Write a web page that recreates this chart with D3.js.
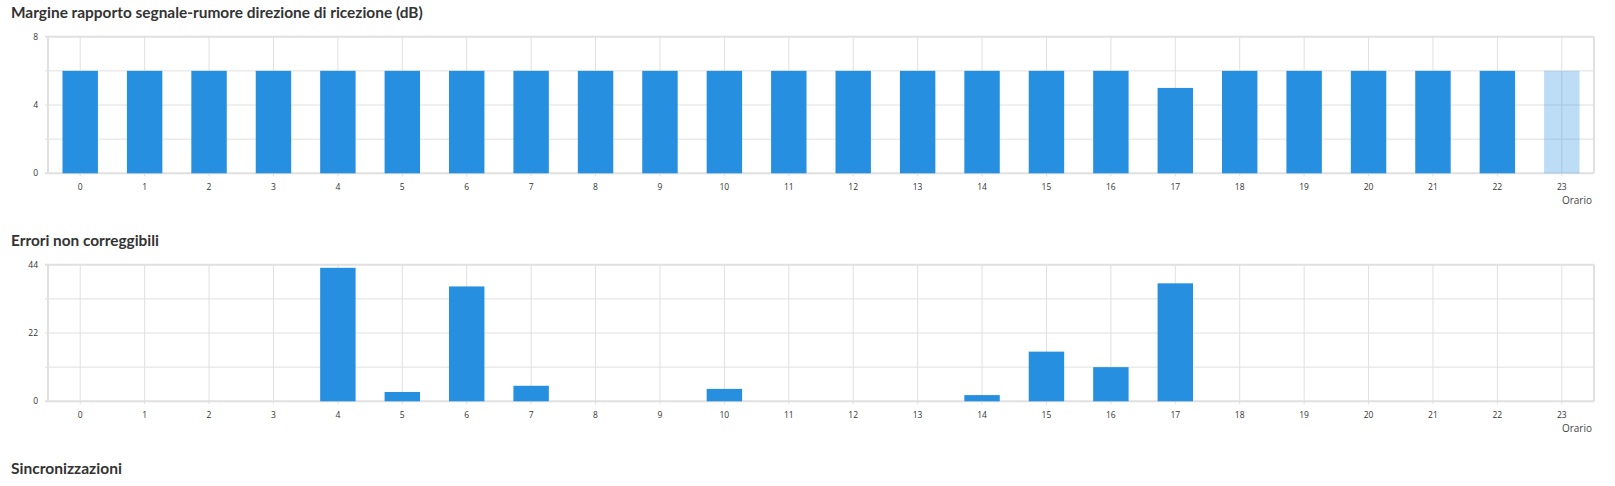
<!DOCTYPE html>
<html>
<head>
<meta charset="utf-8">
<script src="https://cdn.jsdelivr.net/npm/d3@7"></script>
<style>
  html, body { margin: 0; padding: 0; background: #fff; }
  svg { display: block; }
  text { font-family: "Open Sans", "Noto Sans", sans-serif; }
  .title { font-family: Lato, "Open Sans", sans-serif; }
</style>
</head>
<body>
<svg id="chart" width="1615" height="486"></svg>
<script>
const hours = ["0","1","2","3","4","5","6","7","8","9","10","11","12","13","14","15","16","17","18","19","20","21","22","23"];
const snrValues = [6,6,6,6,6,6,6,6,6,6,6,6,6,6,6,6,6,5,6,6,6,6,6,6];
const snrHighlight = [false,false,false,false,false,false,false,false,false,false,false,false,false,false,false,false,false,false,false,false,false,false,false,true];
const errValues = [0,0,0,0,43,3,37,5,0,0,4,0,0,0,2,16,11,38,0,0,0,0,0,0];
const snrTicks = [0,4,8];
const snrGrid = [0,2,4,6,8];
const errTicks = [0,22,44];
const errGrid = [0,11,22,33,44];
const titles = ["Margine rapporto segnale-rumore direzione di ricezione (dB)", "Errori non correggibili", "Sincronizzazioni"];
const titleWidths = [412, 148, 111];
const xAxisName = "Orario";

const svg = d3.select("#chart");
const left = 48, right = 1594, plotH = 136.6, step = 228;
const barColor = "#268fe0";
const gridColor = "#e0e0e0";

function fitTitle(sel, target) {
  let fs = 15;
  sel.attr("font-size", fs);
  const w = sel.node().getComputedTextLength();
  sel.attr("font-size", fs * target / w);
}

titles.forEach((t, i) => {
  const tt = svg.append("text")
    .attr("class", "title")
    .attr("x", 11).attr("y", 18 + i * step)
    .attr("font-weight", 700).attr("fill", "#333")
    .text(t);
  fitTitle(tt, titleWidths[i]);
});

function drawChart(top, values, maxV, ticks, grid, highlight) {
  const g = svg.append("g");
  const x = d3.scaleBand().domain(hours).range([left, right]).paddingInner(0.45).paddingOuter(0.225);
  const xc = d3.scalePoint().domain(hours).range([left, right]).padding(0.5);
  const y = d3.scaleLinear().domain([0, maxV]).range([top + plotH, top]);

  g.selectAll(".hg").data(grid).join("line")
    .attr("x1", left - 3).attr("x2", right)
    .attr("y1", d => y(d)).attr("y2", d => y(d))
    .attr("stroke", gridColor)
    .attr("stroke-width", d => (d === 0 || d === maxV) ? 2 : 1);
  g.selectAll(".vg").data(hours).join("line")
    .attr("x1", d => xc(d)).attr("x2", d => xc(d))
    .attr("y1", top).attr("y2", top + plotH + 3)
    .attr("stroke", gridColor).attr("stroke-width", 1);
  [left, right].forEach(xx => {
    g.append("line").attr("x1", xx).attr("x2", xx).attr("y1", top).attr("y2", top + plotH)
      .attr("stroke", gridColor).attr("stroke-width", 2);
  });

  g.selectAll(".bar").data(values).join("rect")
    .attr("x", (d, i) => x(hours[i]))
    .attr("width", x.bandwidth())
    .attr("y", d => y(d))
    .attr("height", d => y(0) - y(d))
    .attr("fill", barColor)
    .attr("fill-opacity", (d, i) => highlight && highlight[i] ? 0.3 : 1);

  g.selectAll(".yl").data(ticks).join("text")
    .attr("x", 38).attr("y", d => y(d) + 3)
    .attr("text-anchor", "end").attr("font-size", 8.5).attr("fill", "#333")
    .text(d => d);
  g.selectAll(".xl").data(hours).join("text")
    .attr("x", d => xc(d)).attr("y", top + plotH + 16.5)
    .attr("text-anchor", "middle").attr("font-size", 8.5).attr("fill", "#333")
    .text(d => d);
  g.append("text")
    .attr("x", 1592).attr("y", top + plotH + 31)
    .attr("text-anchor", "end").attr("font-size", 10).attr("fill", "#444")
    .text(xAxisName);
}

drawChart(36.7, snrValues, 8, snrTicks, snrGrid, snrHighlight);
drawChart(36.7 + step, errValues, 44, errTicks, errGrid, null);
</script>
</body>
</html>
